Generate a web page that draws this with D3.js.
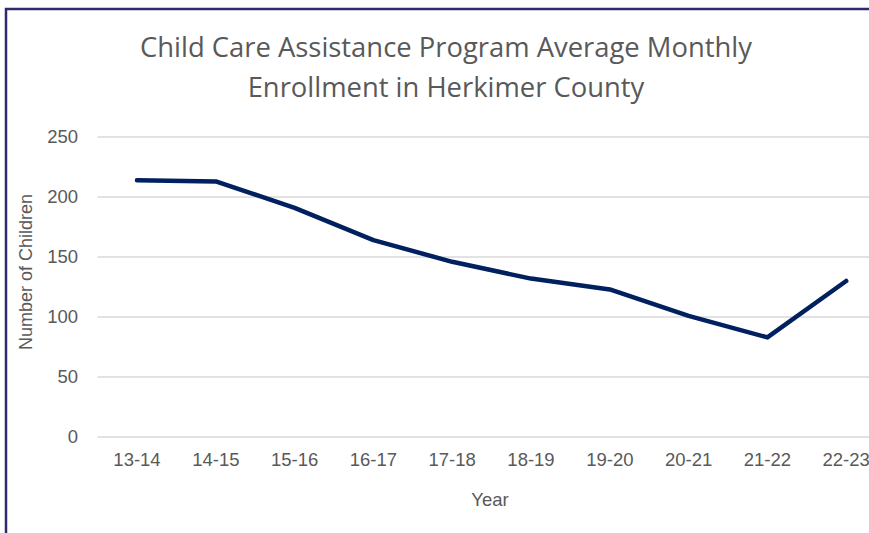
<!DOCTYPE html>
<html><head><meta charset="utf-8">
<script src="https://cdn.jsdelivr.net/npm/d3@7"></script>
<style>html,body{margin:0;padding:0;background:#fff;overflow:hidden}</style>
</head><body>
<script>
const categories = ["13-14","14-15","15-16","16-17","17-18","18-19","19-20","20-21","21-22","22-23"];
const values = [214, 213, 191, 164, 146, 132, 123, 101, 83, 130];
const yTicks = [0, 50, 100, 150, 200, 250];
const titleLines = ["Child Care Assistance Program Average Monthly", "Enrollment in Herkimer County"];

const W = 869, H = 533;
const svg = d3.select("body").append("svg").attr("width", W).attr("height", H);

// border (left and top)
svg.append("path").attr("d", `M6,${H} L6,9 L${W},9`).attr("fill","none")
  .attr("stroke","#2e2a6e").attr("stroke-width",2.5);

const x = d3.scaleBand().domain(categories).range([97.6, 885.6]);
const y = d3.scaleLinear().domain([0, 250]).range([437, 137]);

// gridlines
svg.append("g").selectAll("line").data(yTicks).join("line")
  .attr("x1", 97.6).attr("x2", 885.6)
  .attr("y1", d => y(d)).attr("y2", d => y(d))
  .attr("stroke", "#d9d9d9").attr("stroke-width", 1.5);

const tickFont = "Liberation Sans, Arial, sans-serif";
const yAxis = svg.append("g").attr("transform","translate(90,0)")
  .call(d3.axisLeft(y).tickValues(yTicks).tickSize(0).tickPadding(12));
yAxis.select(".domain").remove();
yAxis.selectAll("text").attr("fill","#595959").style("font-family",tickFont).style("font-size","18.5px");

const xAxis = svg.append("g").attr("transform","translate(0,437)")
  .call(d3.axisBottom(x).tickSize(0).tickPadding(16));
xAxis.select(".domain").remove();
xAxis.selectAll("text").attr("fill","#595959").style("font-family",tickFont).style("font-size","18.5px");

const line = d3.line().x((d,i) => x(categories[i]) + x.bandwidth()/2).y(d => y(d));
svg.append("path").datum(values).attr("d", line).attr("fill","none")
  .attr("stroke","#002060").attr("stroke-width",4.5)
  .attr("stroke-linejoin","round").attr("stroke-linecap","round");

svg.append("g").selectAll("text").data(titleLines).join("text")
  .attr("x", 446).attr("y", (d,i) => 57 + i*40)
  .attr("text-anchor","middle").attr("fill","#595959")
  .style("font-family","Open Sans, sans-serif").style("font-size","27.4px")
  .text(d => d);

svg.append("text").attr("x", 490).attr("y", 506).attr("text-anchor","middle")
  .attr("fill","#595959").style("font-family",tickFont).style("font-size","18.5px").text("Year");

svg.append("text").attr("transform","translate(32,272) rotate(-90)").attr("text-anchor","middle")
  .attr("fill","#595959").style("font-family",tickFont).style("font-size","18px").text("Number of Children");
</script>
</body></html>
